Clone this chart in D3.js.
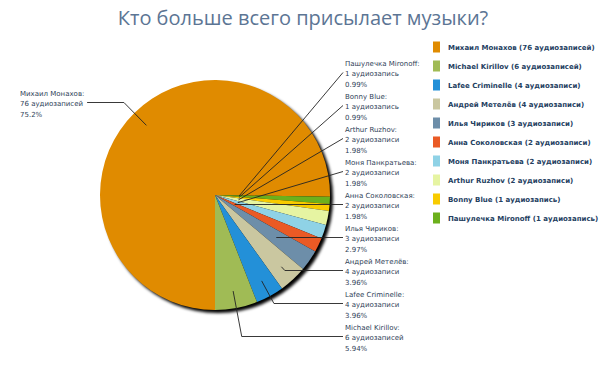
<!DOCTYPE html>
<html>
<head>
<meta charset="utf-8">
<script src="https://cdn.jsdelivr.net/npm/d3@7"></script>
<style>
  body { margin: 0; background: #fff; }
  svg { display: block; }
</style>
</head>
<body>
<div id="chart"></div>
<script>
// data, in legend order
const names = ["Михаил Монахов", "Michael Kirillov", "Lafee Criminelle", "Андрей Метелёв", "Илья Чириков",
  "Анна Соколовская", "Моня Панкратьева", "Arthur Ruzhov", "Bonny Blue", "Пашулечка Mironoff"];
const counts = [76, 6, 4, 4, 3, 2, 2, 2, 1, 1];
const colors = ["#e08b00", "#a0bb55", "#2390d8", "#cac7a0", "#6d8ea9",
  "#ea5a25", "#8fd2e6", "#e6f4a2", "#f8cb00", "#6cb01c"];

const width = 604, height = 392;
const cx = 215, cy = 195, R = 115;
const total = d3.sum(counts);
const fmtPct = d3.format(".3");

function word(n) {
  if (n % 10 === 1 && n % 100 !== 11) return "аудиозапись";
  if ([2, 3, 4].includes(n % 10) && ![12, 13, 14].includes(n % 100)) return "аудиозаписи";
  return "аудиозаписей";
}

const items = names.map((n, i) => ({name: n, value: counts[i], color: colors[i], idx: i}));

const svg = d3.select("#chart").append("svg")
  .attr("width", width).attr("height", height);

// title
svg.append("text")
  .attr("x", 303).attr("y", 25)
  .attr("text-anchor", "middle")
  .style("font-family", "'Open Sans', sans-serif")
  .style("font-size", "20px")
  .style("fill", "#5c7594")
  .text("Кто больше всего присылает музыки?");

// pie: first slice starts at 6 o'clock going clockwise, the rest come in reverse legend order
const pieOrder = [items[0]].concat(items.slice(1).reverse());
const pie = d3.pie().sort(null).value(d => d.value)
  .startAngle(Math.PI).endAngle(3 * Math.PI);
const arcs = pie(pieOrder);
const arc = d3.arc().innerRadius(0).outerRadius(R);

const defs = svg.append("defs");
defs.append("filter").attr("id", "blur")
  .attr("x", "-10%").attr("y", "-10%").attr("width", "120%").attr("height", "120%")
  .append("feGaussianBlur").attr("stdDeviation", 1.4);

const g = svg.append("g").attr("transform", `translate(${cx},${cy})`);
g.append("circle")
  .attr("cx", 3).attr("cy", 3).attr("r", R)
  .attr("fill", "#000").attr("filter", "url(#blur)");

g.selectAll("path.slice")
  .data(arcs)
  .join("path")
  .attr("class", "slice")
  .attr("d", arc)
  .attr("fill", d => d.data.color);

// labels
const labelFont = "'DejaVu Sans', Verdana, sans-serif";
const lineH = 10.5;
const labG = svg.append("g");

function drawLabel(a, x, y0, side) {
  const d = a.data;
  const lines = [d.name + ":", d.value + " " + word(d.value), fmtPct(d.value / total * 100) + "%"];
  const t = labG.append("text")
    .style("font-family", labelFont)
    .style("font-size", "7px")
    .style("fill", "#2f4258");
  lines.forEach((s, k) => {
    t.append("tspan").attr("x", x).attr("y", y0 + k * lineH + 2.5).text(s);
  });
  const ly = y0 + lineH - 1;
  let lx = x - 2;
  if (side === "left") {
    lx = x + t.selectAll("tspan").nodes()[1].getComputedTextLength() + 4;
  }
  // leader line
  const mid = (a.startAngle + a.endAngle) / 2;
  const dx = Math.sin(mid), dy = -Math.cos(mid);
  let ex = cx + dx * R * 0.85, ey = cy + dy * R * 0.85;
  let pts;
  if ((ly - ey) * dy >= 0 && Math.abs(dy) > 0.05) {
    const s = (ly - ey) / dy;
    pts = [[ex, ey], [ex + dx * s, ly], [lx, ly]];
  } else if ((ly - cy) * dy > 0) {
    const s = (ly - cy) / dy;
    pts = [[cx + dx * s, ly], [lx, ly]];
  } else {
    pts = [[cx + dx * 24, cy + dy * 24], [lx, ly]];
  }
  labG.append("path")
    .attr("d", d3.line()(pts))
    .attr("fill", "none")
    .attr("stroke", "#222")
    .attr("stroke-width", 0.9);
}

// big slice label on the left, the others stacked on the right from the top
drawLabel(arcs[0], 20, 93, "left");
arcs.slice(1).forEach((a, i) => drawLabel(a, 345, 63 + i * 33, "right"));

// legend
const leg = svg.append("g");
items.forEach((d, i) => {
  const y = 47 + i * 19;
  leg.append("rect")
    .attr("x", 433).attr("y", y - 5.5)
    .attr("width", 7).attr("height", 11)
    .attr("fill", d.color);
  leg.append("text")
    .attr("x", 448).attr("y", y + 3)
    .style("font-family", labelFont)
    .style("font-size", "7px")
    .style("font-weight", "bold")
    .style("fill", "#24405f")
    .text(`${d.name} (${d.value} ${word(d.value)})`);
});
</script>
</body>
</html>
